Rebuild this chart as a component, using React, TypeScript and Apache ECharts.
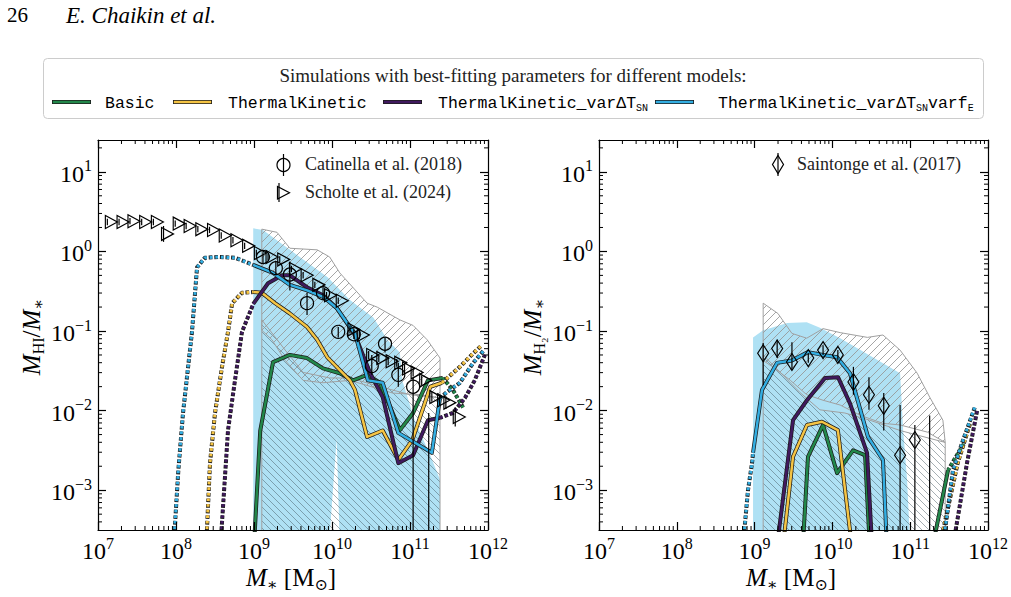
import React, { useEffect, useRef } from "react";
import * as echarts from "echarts";

const SERIF = "'Liberation Serif', 'DejaVu Serif', serif";
const MONO = "'Liberation Mono', 'DejaVu Sans Mono', monospace";

// ---------------- axes (log10 units) ----------------
const X_RANGE = [7, 12];
const Y_RANGE = [-3.5, 1.4];
const X_MAJOR = [7, 8, 9, 10, 11, 12];
const Y_MAJOR = [-3, -2, -1, 0, 1];

// ---------------- observations, HI panel (log10 M*, log10 MHI/M*) ----------------
const catinellaLogM = [9.115, 9.28, 9.46, 9.68, 9.885, 10.08, 10.28, 10.51, 10.68, 10.85, 11.04, 11.24];
const catinellaLogF = [-0.07, -0.21, -0.29, -0.65, -0.525, -1.01, -1.04, -1.44, -1.16, -1.55, -1.7, -3.9];
const catinellaErrHi = [-0.01, -0.13, -0.13, -0.52, -0.45, -0.95, -0.98, -1.3, -1.08, -1.4, -1.58, -2.03];
const catinellaErrLo = [-0.15, -0.3, -0.49, -0.8, -0.61, -1.08, -1.1, -1.55, -1.27, -1.7, -3.7, -3.7];

const scholteLogM = [7.12, 7.27, 7.41, 7.56, 7.71, 7.84, 7.99, 8.13, 8.28, 8.43, 8.58, 8.73, 8.88, 9.03, 9.18, 9.33, 9.48, 9.63, 9.78, 9.93, 10.08, 10.23, 10.35, 10.47, 10.6, 10.72, 10.83, 10.93, 11.04, 11.15, 11.28, 11.38, 11.46, 11.58];
const scholteLogF = [0.37, 0.37, 0.38, 0.37, 0.37, 0.22, 0.35, 0.32, 0.28, 0.27, 0.2, 0.14, 0.07, -0.02, -0.07, -0.1, -0.22, -0.3, -0.42, -0.55, -0.62, -0.98, -1.05, -1.3, -1.34, -1.38, -1.4, -1.47, -1.52, -1.62, -1.83, -1.87, -1.9, -2.08];
const scholteErr = [0.04, 0.04, 0.04, 0.04, 0.04, 0.1, 0.04, 0.04, 0.04, 0.04, 0.04, 0.04, 0.04, 0.04, 0.04, 0.04, 0.04, 0.04, 0.04, 0.04, 0.04, 0.05, 0.05, 0.05, 0.05, 0.05, 0.05, 0.05, 0.05, 0.06, 0.06, 0.06, 0.08, 0.12];

// ---------------- observations, H2 panel ----------------
const saintongeLogM = [9.11, 9.29, 9.48, 9.69, 9.88, 10.07, 10.27, 10.47, 10.66, 10.87, 11.06, 11.25];
const saintongeLogF = [-1.28, -1.22, -1.39, -1.34, -1.24, -1.3, -1.64, -1.8, -1.94, -2.56, -2.37, -3.9];
const saintongeErrHi = [-1.15, -1.11, -1.14, -1.28, -1.18, -1.24, -1.45, -1.58, -1.78, -1.93, -2.18, -2.06];
const saintongeErrLo = [-1.68, -1.34, -1.49, -1.4, -1.3, -1.36, -1.8, -1.99, -2.25, -3.7, -3.7, -3.7];

// ---------------- shaded regions, HI panel ----------------
const hiSimBandTop = [[8.99, 0.29], [9.115, 0.27], [9.46, 0.02], [9.94, -0.32], [10.23, -0.61], [10.53, -0.83], [10.71, -1.11], [10.87, -1.27], [10.9, -1.62], [11.06, -2.12], [11.26, -2.56], [11.385, -2.87]];
const hiSimBandBottom = [[8.99, -3.7], [9.96, -3.7], [10.06, -2.35], [10.1, -3.7], [11.385, -3.7]];
const hiObsUpperTop = [[9.1, 0.28], [9.295, 0.24], [9.46, 0.04], [9.81, 0.02], [9.97, -0.07], [10.1, -0.27], [10.45, -0.65], [10.58, -0.7], [10.87, -0.86], [11.04, -0.93], [11.22, -1.11], [11.385, -1.34]];
const hiObsUpperBottom = [[9.1, -0.99], [9.23, -1.11], [9.4, -1.37], [9.63, -1.62], [9.885, -1.65], [10.23, -1.62], [10.78, -1.78], [11.13, -1.8], [11.385, -1.84]];
const hiObsLowerTop = [[9.1, -0.86], [9.4, -1.24], [9.63, -1.52], [9.97, -1.59], [10.23, -1.59], [10.62, -1.7], [11.0, -1.8], [11.385, -1.84]];
const hiObsLowerBottom = [[9.1, -3.7], [11.385, -3.7]];

// ---------------- shaded regions, H2 panel ----------------
const h2SimBandTop = [[8.98, -1.08], [9.11, -0.99], [9.42, -0.9], [9.67, -0.89], [9.84, -0.96], [10.1, -1.09], [10.36, -1.24], [10.87, -1.53], [10.91, -2.25], [10.96, -2.87], [11.0, -3.7]];
const h2SimBandBottom = [[8.98, -3.7], [11.0, -3.7]];
const h2ObsUpperTop = [[9.11, -0.65], [9.3, -0.78], [9.48, -1.03], [9.67, -1.09], [9.88, -0.97], [10.1, -1.02], [10.45, -1.08], [10.65, -1.05], [10.87, -1.24], [11.09, -1.53], [11.25, -1.83], [11.42, -2.12], [11.45, -2.4]];
const h2ObsUpperBottom = [[9.11, -1.37], [9.26, -1.47], [9.46, -1.62], [9.67, -1.8], [9.88, -1.87], [10.1, -1.93], [10.36, -2.06], [10.65, -2.16], [10.87, -2.18], [11.22, -2.27], [11.45, -2.4]];
const h2ObsLowerTop = [[9.11, -1.3], [9.33, -1.52], [9.58, -1.77], [9.84, -1.99], [10.16, -2.03], [10.48, -2.12], [10.87, -2.25], [11.45, -2.4]];
const h2ObsLowerBottom = [[9.11, -3.7], [11.45, -3.7]];

// ---------------- model medians, HI panel ----------------
const hiBasicSolid = [[9.0, -3.7], [9.08, -2.25], [9.244, -1.39], [9.46, -1.3], [9.68, -1.34], [9.885, -1.47], [10.1, -1.53], [10.27, -1.62], [10.45, -1.55], [10.615, -1.65], [10.87, -2.245], [11.04, -2.03], [11.23, -1.62], [11.42, -1.59]];
const hiBasicDotHigh = [[11.42, -1.59], [11.55, -1.74], [11.68, -1.96]];
const hiTKDotLow = [[8.387, -3.7], [8.436, -2.66], [8.5, -2.03], [8.59, -1.45], [8.667, -1.01], [8.72, -0.65], [8.846, -0.52], [8.99, -0.51]];
const hiTKSolid = [[8.99, -0.51], [9.1, -0.52], [9.27, -0.65], [9.46, -0.78], [9.68, -0.95], [9.81, -1.11], [9.94, -1.33], [10.23, -1.62], [10.295, -1.74], [10.45, -2.33], [10.65, -2.25], [10.85, -2.62], [11.03, -2.37], [11.26, -1.7], [11.41, -1.65]];
const hiTKDotHigh = [[11.41, -1.65], [11.64, -1.45], [11.81, -1.28], [11.92, -1.18]];
const hiVarDotLow = [[8.57, -3.7], [8.667, -2.245], [8.756, -1.62], [8.846, -1.01], [8.974, -0.7], [8.99, -0.66]];
const hiVarSolid = [[8.99, -0.66], [9.18, -0.4], [9.36, -0.3], [9.46, -0.3], [9.68, -0.45], [9.885, -0.55], [10.06, -0.71], [10.295, -1.05], [10.49, -1.53], [10.65, -1.83], [10.85, -2.66], [11.04, -2.56], [11.23, -2.12], [11.385, -2.09]];
const hiVarDotHigh = [[11.385, -2.09], [11.55, -2.03], [11.705, -1.84], [11.83, -1.62], [11.96, -1.3]];
const hiVarFDotLow = [[7.97, -3.7], [8.03, -2.75], [8.09, -2.03], [8.205, -1.01], [8.27, -0.2], [8.37, -0.08], [8.54, -0.07], [8.76, -0.08], [8.99, -0.17]];
const hiVarFSolid = [[8.99, -0.17], [9.244, -0.27], [9.46, -0.42], [9.68, -0.49], [9.885, -0.57], [10.06, -0.71], [10.23, -0.95], [10.295, -1.03], [10.46, -1.62], [10.65, -1.65], [10.85, -2.28], [11.28, -2.53], [11.385, -1.84]];
const hiVarFDotHigh = [[11.385, -1.84], [11.47, -1.77], [11.64, -1.65], [11.81, -1.4], [11.95, -1.24]];

// ---------------- model medians, H2 panel ----------------
const h2BasicSolid = [[9.62, -3.7], [9.686, -2.58], [9.88, -2.18], [10.06, -2.785], [10.265, -2.5], [10.42, -2.56], [10.48, -3.7]];
const h2BasicSolidHigh = [[11.29, -3.7], [11.486, -2.75]];
const h2BasicDotHigh = [[11.486, -2.75], [11.6, -2.56], [11.7, -2.4]];
const h2TKSolid = [[9.365, -3.7], [9.494, -2.58], [9.673, -2.18], [9.866, -2.14], [10.07, -2.245], [10.25, -3.7]];
const h2TKDotHigh = [[11.38, -3.7], [11.61, -2.66], [11.77, -2.16]];
const h2VarSolid = [[9.288, -3.7], [9.494, -2.12], [9.673, -1.87], [9.905, -1.59], [10.072, -1.58], [10.226, -1.91], [10.445, -2.53], [10.51, -3.7]];
const h2VarDotHigh = [[11.55, -3.7], [11.73, -2.66], [11.86, -2.0]];
const h2VarFDotLow = [[8.85, -3.7], [8.915, -3.0], [8.967, -2.66], [8.98, -2.53]];
const h2VarFSolid = [[8.98, -2.53], [9.095, -1.74], [9.288, -1.4], [9.48, -1.37], [9.686, -1.265], [9.879, -1.3], [10.06, -1.33], [10.226, -1.53], [10.457, -2.33], [10.65, -2.62], [10.7, -3.7]];
const h2VarFDotHigh = [[11.42, -3.7], [11.55, -2.75], [11.68, -2.37], [11.83, -1.96]];

// ---------------- styles ----------------
const GREEN = "#22874a";
const YELLOW = "#f5c444";
const PURPLE = "#40195e";
const CYAN = "#33aee2";
const BAND = "#afe1f4";
const EDGE = "#1c1c1c";

type Seg = { pts: number[][]; dotted: boolean };
const HI_MODELS: { color: string; segs: Seg[] }[] = [
  { color: GREEN, segs: [{ pts: hiBasicSolid, dotted: false }, { pts: hiBasicDotHigh, dotted: true }] },
  { color: YELLOW, segs: [{ pts: hiTKDotLow, dotted: true }, { pts: hiTKSolid, dotted: false }, { pts: hiTKDotHigh, dotted: true }] },
  { color: PURPLE, segs: [{ pts: hiVarDotLow, dotted: true }, { pts: hiVarSolid, dotted: false }, { pts: hiVarDotHigh, dotted: true }] },
  { color: CYAN, segs: [{ pts: hiVarFDotLow, dotted: true }, { pts: hiVarFSolid, dotted: false }, { pts: hiVarFDotHigh, dotted: true }] },
];
const H2_MODELS: { color: string; segs: Seg[] }[] = [
  { color: GREEN, segs: [{ pts: h2BasicSolid, dotted: false }, { pts: h2BasicSolidHigh, dotted: false }, { pts: h2BasicDotHigh, dotted: true }] },
  { color: YELLOW, segs: [{ pts: h2TKSolid, dotted: false }, { pts: h2TKDotHigh, dotted: true }] },
  { color: PURPLE, segs: [{ pts: h2VarSolid, dotted: false }, { pts: h2VarDotHigh, dotted: true }] },
  { color: CYAN, segs: [{ pts: h2VarFDotLow, dotted: true }, { pts: h2VarFSolid, dotted: false }, { pts: h2VarFDotHigh, dotted: true }] },
];

const p10 = (v: number) => Math.pow(10, v);

function makeHatch(forward: boolean, period: number, color: string, lw: number) {
  const c = document.createElement("canvas");
  c.width = period;
  c.height = period;
  const g = c.getContext("2d")!;
  g.strokeStyle = color;
  g.lineWidth = lw;
  g.beginPath();
  for (const o of [-period, 0, period]) {
    if (forward) {
      g.moveTo(o, period);
      g.lineTo(o + period, 0);
    } else {
      g.moveTo(o, 0);
      g.lineTo(o + period, period);
    }
  }
  g.stroke();
  return c;
}

const expLabel = (v: number) => {
  const e = Math.round(Math.log10(v));
  return e < 0 ? "\u2212" + Math.abs(e) : String(e);
};

const tickRich = {
  b: { fontFamily: SERIF, fontSize: 24, color: "#000", lineHeight: 28, verticalAlign: "bottom" },
  s: { fontFamily: SERIF, fontSize: 16, color: "#000", lineHeight: 14, verticalAlign: "top" },
};

function xAxis(g: number, pos: "bottom" | "top") {
  return {
    type: "log",
    logBase: 10,
    gridIndex: g,
    position: pos,
    min: p10(X_RANGE[0]),
    max: p10(X_RANGE[1]),
    z: 10,
    axisLine: { show: true, onZero: false, lineStyle: { color: "#000", width: 1.2 } },
    axisTick: { show: true, inside: true, length: 8, customValues: X_MAJOR.map(p10), lineStyle: { color: "#000", width: 1.2 } },
    axisLabel:
      pos === "bottom"
        ? { show: true, margin: 5, customValues: X_MAJOR.map(p10), formatter: (v: number) => `{b|10}{s|${expLabel(v)}}`, rich: tickRich }
        : { show: false },
    splitLine: { show: false },
    minorTick: { show: false },
    minorSplitLine: { show: false },
  };
}

function yAxis(g: number, pos: "left" | "right") {
  return {
    type: "log",
    logBase: 10,
    gridIndex: g,
    position: pos,
    min: p10(Y_RANGE[0]),
    max: p10(Y_RANGE[1]),
    z: 10,
    axisLine: { show: true, onZero: false, lineStyle: { color: "#000", width: 1.2 } },
    axisTick: { show: true, inside: true, length: 8, customValues: Y_MAJOR.map(p10), lineStyle: { color: "#000", width: 1.2 } },
    axisLabel:
      pos === "left"
        ? { show: true, margin: 6, customValues: Y_MAJOR.map(p10), formatter: (v: number) => `{b|10}{s|${expLabel(v)}}`, rich: tickRich }
        : { show: false },
    splitLine: { show: false },
    minorTick: { show: false },
    minorSplitLine: { show: false },
  };
}

function minorTickSeries(g: number) {
  const xs: number[] = [];
  for (let e = X_RANGE[0]; e < X_RANGE[1]; e++) for (let k = 2; k <= 9; k++) xs.push(e + Math.log10(k));
  const ys: number[] = [];
  for (let e = Math.floor(Y_RANGE[0]); e <= Math.ceil(Y_RANGE[1]); e++)
    for (let k = 2; k <= 9; k++) {
      const v = e + Math.log10(k);
      if (v > Y_RANGE[0] && v < Y_RANGE[1]) ys.push(v);
    }
  const data = [
    ...xs.map((v) => [p10(v), p10(Y_RANGE[0]), 0]),
    ...ys.map((v) => [p10(X_RANGE[0]), p10(v), 1]),
  ];
  return {
    type: "custom",
    xAxisIndex: 2 * g,
    yAxisIndex: 2 * g,
    silent: true,
    z: 20,
    data,
    renderItem: (params: any, api: any) => {
      const cs = params.coordSys;
      const pt = api.coord([api.value(0), api.value(1)]);
      const st = { stroke: "#000", lineWidth: 1 };
      if (api.value(2) === 0) {
        const x = pt[0];
        return {
          type: "group",
          children: [
            { type: "line", shape: { x1: x, y1: cs.y + cs.height, x2: x, y2: cs.y + cs.height - 4 }, style: st },
            { type: "line", shape: { x1: x, y1: cs.y, x2: x, y2: cs.y + 4 }, style: st },
          ],
        };
      }
      const y = pt[1];
      return {
        type: "group",
        children: [
          { type: "line", shape: { x1: cs.x, y1: y, x2: cs.x + 4, y2: y }, style: st },
          { type: "line", shape: { x1: cs.x + cs.width, y1: y, x2: cs.x + cs.width - 4, y2: y }, style: st },
        ],
      };
    },
  };
}

function polySeries(g: number, top: number[][], bottom: number[][], style: any, z: number) {
  const pts = [...top, ...bottom.slice().reverse()];
  return {
    type: "custom",
    xAxisIndex: 2 * g,
    yAxisIndex: 2 * g,
    clip: true,
    silent: true,
    z,
    data: [[p10(top[0][0]), p10(Math.max(top[0][1], Y_RANGE[0]))]],
    renderItem: (_p: any, api: any) => ({
      type: "polygon",
      shape: { points: pts.map(([x, y]) => api.coord([p10(x), p10(y)])) },
      style,
    }),
  };
}

function lineSeries(g: number, pts: number[][], color: string, width: number, type: any, dashOffset: number, z: number) {
  return {
    type: "line",
    xAxisIndex: 2 * g,
    yAxisIndex: 2 * g,
    data: pts.map(([x, y]) => [p10(x), p10(y)]),
    symbol: "none",
    silent: true,
    clip: true,
    z,
    lineStyle: { color, width, type, dashOffset, cap: "butt", join: "round" },
  };
}

function modelSeries(g: number, models: { color: string; segs: Seg[] }[]) {
  const out: any[] = [];
  models.forEach((m) => {
    m.segs.forEach((s) => {
      if (s.dotted) {
        out.push(lineSeries(g, s.pts, EDGE, 4.0, [3.7, 1.9], 0.5, 3));
        out.push(lineSeries(g, s.pts, m.color, 3.0, [2.7, 2.9], 0, 3));
      } else {
        out.push(lineSeries(g, s.pts, EDGE, 4.0, "solid", 0, 3));
        out.push(lineSeries(g, s.pts, m.color, 2.5, "solid", 0, 3));
      }
    });
  });
  return out;
}

function errorSeries(g: number, xs: number[], lo: number[], hi: number[]) {
  return {
    type: "custom",
    xAxisIndex: 2 * g,
    yAxisIndex: 2 * g,
    clip: true,
    silent: true,
    z: 4,
    data: xs.map((x, i) => [p10(x), p10(lo[i]), p10(hi[i])]),
    renderItem: (_p: any, api: any) => {
      const a = api.coord([api.value(0), api.value(1)]);
      const b = api.coord([api.value(0), api.value(2)]);
      return { type: "line", shape: { x1: a[0], y1: a[1], x2: b[0], y2: b[1] }, style: { stroke: "#000", lineWidth: 1.2 } };
    },
  };
}

function markerSeries(g: number, xs: number[], ys: number[], symbol: string, size: any, extra: any = {}) {
  return {
    type: "scatter",
    xAxisIndex: 2 * g,
    yAxisIndex: 2 * g,
    silent: true,
    clip: true,
    z: 5,
    symbol,
    symbolSize: size,
    data: xs.map((x, i) => [p10(x), p10(ys[i])]),
    itemStyle: { color: "rgba(255,255,255,0)", borderColor: "#000", borderWidth: 1.2, opacity: 1 },
    ...extra,
  };
}

function buildOption(hatchFwd: HTMLCanvasElement, hatchBack: HTMLCanvasElement) {
  const fwdFill = { image: hatchFwd, repeat: "repeat" };
  const backFill = { image: hatchBack, repeat: "repeat" };
  const obsEdge = "#a0a0a0";

  const series: any[] = [
    // HI panel
    polySeries(0, hiSimBandTop, hiSimBandBottom, { fill: BAND, stroke: "none" }, 1),
    polySeries(0, hiObsLowerTop, hiObsLowerBottom, { fill: backFill, stroke: obsEdge, lineWidth: 1 }, 2),
    polySeries(0, hiObsUpperTop, hiObsUpperBottom, { fill: fwdFill, stroke: obsEdge, lineWidth: 1 }, 2),
    ...modelSeries(0, HI_MODELS),
    errorSeries(0, catinellaLogM, catinellaErrLo, catinellaErrHi),
    errorSeries(
      0,
      scholteLogM,
      scholteLogF.map((v, i) => v - scholteErr[i]),
      scholteLogF.map((v, i) => v + scholteErr[i])
    ),
    markerSeries(0, catinellaLogM, catinellaLogF, "circle", 13),
    markerSeries(0, scholteLogM, scholteLogF, "triangle", [13, 12], { symbolRotate: -90, symbolOffset: [4, 0] }),
    minorTickSeries(0),
    // H2 panel
    polySeries(1, h2SimBandTop, h2SimBandBottom, { fill: BAND, stroke: "none" }, 1),
    polySeries(1, h2ObsLowerTop, h2ObsLowerBottom, { fill: backFill, stroke: obsEdge, lineWidth: 1 }, 2),
    polySeries(1, h2ObsUpperTop, h2ObsUpperBottom, { fill: fwdFill, stroke: obsEdge, lineWidth: 1 }, 2),
    ...modelSeries(1, H2_MODELS),
    errorSeries(1, saintongeLogM, saintongeErrLo, saintongeErrHi),
    markerSeries(1, saintongeLogM, saintongeLogF, "diamond", [11, 17]),
    minorTickSeries(1),
  ];

  const mathRich = {
    i: { fontFamily: SERIF, fontStyle: "italic", fontSize: 25, lineHeight: 30, verticalAlign: "middle", fill: "#000", color: "#000" },
    n: { fontFamily: SERIF, fontSize: 25, lineHeight: 30, verticalAlign: "middle", fill: "#000", color: "#000" },
    s: { fontFamily: SERIF, fontSize: 16, lineHeight: 14, verticalAlign: "bottom", fill: "#000", color: "#000" },
  };
  const monoRich = {
    t: { fontFamily: MONO, fontSize: 16.5, lineHeight: 20, verticalAlign: "middle", fill: "#000", color: "#000" },
    u: { fontFamily: MONO, fontSize: 10, lineHeight: 12, verticalAlign: "bottom", fill: "#000", color: "#000" },
  };

  const legendEntries = [
    { color: GREEN, x0: 52, tx: 105, text: "{t|Basic}" },
    { color: YELLOW, x0: 173, tx: 228, text: "{t|ThermalKinetic}" },
    { color: PURPLE, x0: 383, tx: 438, text: "{t|ThermalKinetic_varΔT}{u|SN}" },
    { color: CYAN, x0: 655, tx: 718, text: "{t|ThermalKinetic_varΔT}{u|SN}{t|varf}{u|E}" },
  ];
  const LY = 102;
  const txt = (x: number, y: number, text: string, size: number, extra: any = {}) => ({
    type: "text",
    x,
    y,
    z: 50,
    style: { text, fontFamily: SERIF, fontSize: size, fill: "#222", align: "left", verticalAlign: "middle", textAlign: "left", textVerticalAlign: "middle", ...extra },
  });

  const graphic: any[] = [
    txt(7, 15, "26", 21, { fill: "#000" }),
    txt(66, 15, "E. Chaikin et al.", 23, { fill: "#000", fontStyle: "italic" }),
    { type: "rect", shape: { x: 43.5, y: 58.5, width: 940, height: 60, r: 4 }, style: { fill: "#fff", stroke: "#cccccc", lineWidth: 1 }, z: 100 },
    { type: "text", x: 513, y: 75, z: 101, style: { text: "Simulations with best-fitting parameters for different models:", fontFamily: SERIF, fontSize: 19, fill: "#222", align: "center", verticalAlign: "middle", textAlign: "center", textVerticalAlign: "middle" } },
    ...legendEntries.flatMap((e) => [
      { type: "line", z: 101, shape: { x1: e.x0, y1: LY, x2: e.x0 + 39, y2: LY }, style: { stroke: EDGE, lineWidth: 4.2 } },
      { type: "line", z: 102, shape: { x1: e.x0 + 0.8, y1: LY, x2: e.x0 + 38.2, y2: LY }, style: { stroke: e.color, lineWidth: 2.5 } },
      { type: "text", x: e.tx, y: LY + 1, z: 102, style: { text: e.text, rich: monoRich, fill: "#000", align: "left", verticalAlign: "middle", textAlign: "left", textVerticalAlign: "middle" } },
    ]),
    // inner legends
    { type: "line", z: 50, shape: { x1: 283.5, y1: 154, x2: 283.5, y2: 176 }, style: { stroke: "#000", lineWidth: 1.2 } },
    { type: "circle", z: 50, shape: { cx: 283.5, cy: 165, r: 6.5 }, style: { fill: "none", stroke: "#000", lineWidth: 1.2 } },
    txt(305, 164, "Catinella et al. (2018)", 18),
    { type: "line", z: 50, shape: { x1: 279, y1: 183, x2: 279, y2: 202 }, style: { stroke: "#000", lineWidth: 1.2 } },
    { type: "polygon", z: 50, shape: { points: [[277.5, 186.5], [277.5, 199], [289.5, 192.75]] }, style: { fill: "none", stroke: "#000", lineWidth: 1.2 } },
    txt(305, 192, "Scholte et al. (2024)", 18),
    { type: "line", z: 50, shape: { x1: 778, y1: 153, x2: 778, y2: 176 }, style: { stroke: "#000", lineWidth: 1.2 } },
    { type: "polygon", z: 50, shape: { points: [[778, 155.5], [783.5, 164.5], [778, 173.5], [772.5, 164.5]] }, style: { fill: "none", stroke: "#000", lineWidth: 1.2 } },
    txt(797, 164, "Saintonge et al. (2017)", 18),
    // axis titles
    { type: "text", x: 31, y: 337, rotation: Math.PI / 2, style: { text: "{i|M}{s|HI}{n|/}{i|M}{s|∗}", rich: mathRich, align: "center", verticalAlign: "middle", textAlign: "center", textVerticalAlign: "middle" } },
    { type: "text", x: 532, y: 337, rotation: Math.PI / 2, style: { text: "{i|M}{s|H₂}{n|/}{i|M}{s|∗}", rich: mathRich, align: "center", verticalAlign: "middle", textAlign: "center", textVerticalAlign: "middle" } },
    { type: "text", x: 291, y: 577, style: { text: "{i|M}{s|∗}{n| [M}{s|⊙}{n|]}", rich: mathRich, align: "center", verticalAlign: "middle", textAlign: "center", textVerticalAlign: "middle" } },
    { type: "text", x: 791, y: 577, style: { text: "{i|M}{s|∗}{n| [M}{s|⊙}{n|]}", rich: mathRich, align: "center", verticalAlign: "middle", textAlign: "center", textVerticalAlign: "middle" } },
  ];

  return {
    animation: false,
    backgroundColor: "#ffffff",
    textStyle: { fontFamily: SERIF },
    grid: [
      { left: 98, top: 140, width: 390, height: 390, containLabel: false, outerBoundsMode: "none" },
      { left: 599, top: 140, width: 389, height: 390, containLabel: false, outerBoundsMode: "none" },
    ],
    xAxis: [xAxis(0, "bottom"), xAxis(0, "top"), xAxis(1, "bottom"), xAxis(1, "top")],
    yAxis: [yAxis(0, "left"), yAxis(0, "right"), yAxis(1, "left"), yAxis(1, "right")],
    series,
    graphic,
  };
}

export default function App() {
  const ref = useRef<HTMLDivElement>(null);
  useEffect(() => {
    const chart = echarts.init(ref.current!, null, { renderer: "svg" });
    const hatchFwd = makeHatch(true, 8, "rgba(150,150,150,0.85)", 1);
    const hatchBack = makeHatch(false, 7, "rgba(60,80,90,0.46)", 1);
    chart.setOption(buildOption(hatchFwd, hatchBack) as any);
    return () => chart.dispose();
  }, []);
  return <div ref={ref} style={{ position: "fixed", left: 0, top: 0, width: 1011, height: 597 }} />;
}
